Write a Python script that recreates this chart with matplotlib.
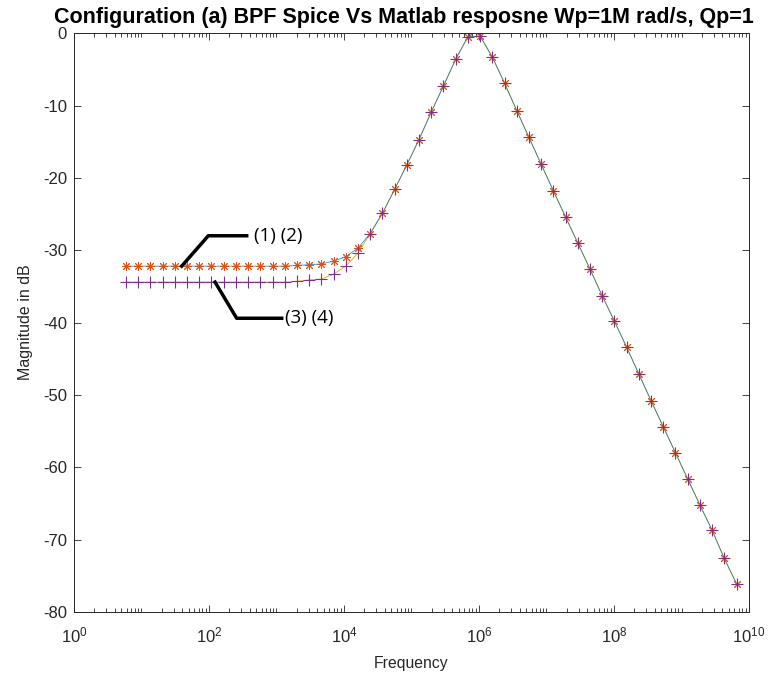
import matplotlib.pyplot as plt
from matplotlib.ticker import FixedLocator, LogLocator, NullFormatter

plt.rcParams['font.family'] = ['Liberation Sans', 'DejaVu Sans']
plt.rcParams['mathtext.fontset'] = 'custom'
plt.rcParams['mathtext.rm'] = 'Liberation Sans'
plt.rcParams['axes.unicode_minus'] = False

# frequencies (rad/s)
freq = [5.89, 8.93, 13.5, 20.5, 31.2, 47.3, 71.7, 108.7, 164.9, 250.1,
        379, 575, 873, 1323, 2007, 3044, 4617, 7003, 10620, 16110,
        24430, 37070, 56220, 85270, 129300, 196200, 297500, 451200, 684400, 1.038e6,
        1.574e6, 2.388e6, 3.622e6, 5.493e6, 8.33e6, 1.264e7, 1.916e7, 2.906e7, 4.408e7, 6.686e7,
        1.014e8, 1.538e8, 2.333e8, 3.538e8, 5.366e8, 8.139e8, 1.234e9, 1.872e9, 2.84e9, 4.307e9,
        6.53e9]

# (1) (2) : magnitude in dB
mag_12 = [-32.2, -32.2, -32.2, -32.2, -32.2, -32.2, -32.2, -32.2, -32.2, -32.2,
          -32.2, -32.2, -32.2, -32.2, -32.1, -32.0, -31.9, -31.5, -30.9, -29.7,
          -27.7, -24.9, -21.6, -18.2, -14.7, -10.9, -7.3, -3.6, -0.5, -0.4,
          -3.3, -6.9, -10.7, -14.4, -18.1, -21.8, -25.4, -29.0, -32.6, -36.3,
          -39.8, -43.4, -47.1, -50.8, -54.4, -58.0, -61.6, -65.2, -68.7, -72.6,
          -76.1]

# (3) (4)
mag_34 = [-34.4, -34.4, -34.4, -34.4, -34.4, -34.4, -34.4, -34.4, -34.4, -34.4,
          -34.4, -34.4, -34.4, -34.4, -34.3, -34.1, -34.0, -33.3, -32.2, -30.4,
          -27.7, -24.9, -21.6, -18.2, -14.7, -10.9, -7.3, -3.6, -0.5, -0.4,
          -3.3, -6.9, -10.7, -14.4, -18.1, -21.8, -25.4, -29.0, -32.6, -36.3,
          -39.8, -43.4, -47.1, -50.8, -54.4, -58.0, -61.6, -65.2, -68.7, -72.6,
          -76.1]

txt = '#262626'
fig = plt.figure(figsize=(7.69, 6.81), dpi=100)
ax = fig.add_axes([0.0962, 0.1013, 0.8778, 0.850])

ax.semilogx(freq, mag_34, color='#EDB120', lw=0.7)
ax.semilogx(freq, mag_12, color='#0072BD', lw=0.6, alpha=0.8)
ax.semilogx(freq, mag_12, ls='none', marker=(8, 2, 0), ms=6.5, mew=0.7, color='#D95319')
ax.semilogx(freq, mag_34, ls='none', marker='+', ms=8, mew=0.8, color='#7E2F8E')

ax.set_xlim(1, 1e10)
ax.set_ylim(-80, 0)
ax.xaxis.set_major_locator(FixedLocator([10.0 ** p for p in range(0, 11, 2)]))
ax.xaxis.set_minor_locator(LogLocator(base=10, subs=range(1, 10), numticks=100))
ax.xaxis.set_minor_formatter(NullFormatter())
ax.set_yticks(range(-80, 1, 10))

ax.tick_params(which='both', direction='in', top=True, right=True, colors=txt,
               labelsize=12, width=0.6)
ax.tick_params(which='major', length=5)
ax.tick_params(which='minor', length=3)
ax.tick_params(axis='x', which='major', pad=10)
ax.tick_params(axis='y', which='major', pad=5)
for s in ax.spines.values():
    s.set_color(txt)
    s.set_linewidth(0.7)

ax.set_xlabel('Frequency', fontsize=11.3, color=txt, labelpad=7)
ax.set_ylabel('Magnitude in dB', fontsize=11.5, color=txt, labelpad=7)
ax.set_title('Configuration (a) BPF Spice Vs Matlab resposne Wp=1M rad/s, Qp=1',
             fontsize=15.5, fontweight='bold', pad=7, x=0.488)

# hand-drawn callouts
ax.plot([39.4, 97.7, 362], [-32.2, -28.0, -28.0], color='black', lw=2.5)
ax.text(464, -28.0, '(1) (2)', fontsize=13.5, va='center', ha='left',
        family=['Open Sans', 'DejaVu Sans'])
ax.plot([123, 257, 1194], [-34.4, -39.4, -39.4], color='black', lw=2.5)
ax.text(1336, -39.4, '(3) (4)', fontsize=13.5, va='center', ha='left',
        family=['Open Sans', 'DejaVu Sans'])

fig.savefig('out.png', dpi=100)
